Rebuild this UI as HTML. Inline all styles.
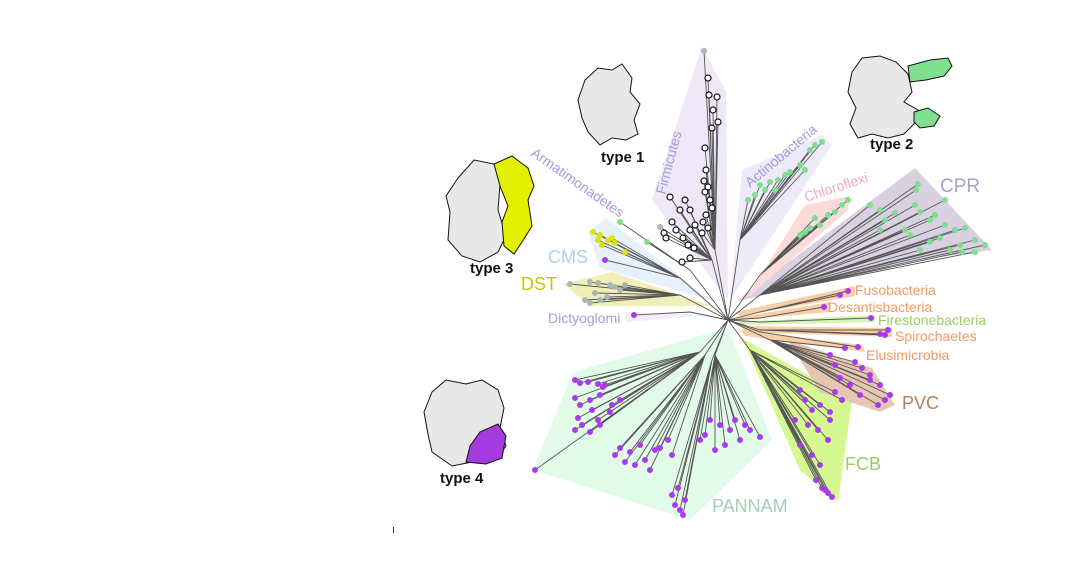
<!DOCTYPE html>
<html><head><meta charset="utf-8"><style>
html,body{margin:0;padding:0;background:#fff;}
svg{display:block;font-family:"Liberation Sans",sans-serif;}
</style></head><body>
<svg width="1087" height="575" viewBox="0 0 1087 575" xmlns="http://www.w3.org/2000/svg">
<g>
<polygon points="533,470 573,372 728,328 772,440 690,520" fill="#e2fbe8"/>
<polygon points="742,338 852,400 838,502 800,470" fill="#d6f890"/>
<polygon points="788,340 872,368 895,405 880,412 820,392" fill="#e6c6b2"/>
<polygon points="740,330 862,345 865,352 745,336" fill="#f7cfa6"/>
<polygon points="740,326 892,328 892,337 745,332" fill="#f7cfa6"/>
<polygon points="735,322 875,315 875,322 740,325" fill="#d6f5b2"/>
<polygon points="735,318 830,302 830,312 740,320" fill="#f7cfa6"/>
<polygon points="735,312 855,286 855,296 740,316" fill="#f7cfa6"/>
<polygon points="735,302 915,168 992,250 905,262" fill="#d9d0e2"/>
<polygon points="745,300 805,205 850,196 848,210" fill="#fbdada"/>
<polygon points="730,300 742,170 822,135 832,145" fill="#efeafa"/>
<polygon points="652,200 702,46 726,92 728,300" fill="#efe8f8"/>
<polygon points="588,232 606,218 710,300 600,268" fill="#e6f1fb"/>
<polygon points="563,284 612,272 712,306 590,306" fill="#f1efb8"/>
<polygon points="626,312 715,315 626,322" fill="#f4eefa"/>
</g>
<path stroke="#555" stroke-width="0.9" fill="none" d="
M728 320L700 352L575 380 M728 320L700 352L580 383 M728 320L700 352L588 382 M728 320L700 352L598 384 M728 320L700 352L605 385 M728 320L700 352L575 398 M728 320L700 352L580 405 M728 320L700 352L590 400 M728 320L700 352L600 395 M728 320L700 352L592 410 M728 320L700 352L578 418 M728 320L700 352L582 425 M728 320L700 352L598 420 M728 320L700 352L610 412 M728 320L700 352L575 430 M728 320L700 352L590 432 M728 320L700 352L600 425 M728 320L700 352L612 405 M728 320L700 352L620 400 M728 320L700 352L603 387 M728 320L700 352L535 470
M728 320L705 355L620 448 M728 320L705 355L630 452 M728 320L705 355L640 445 M728 320L705 355L625 462 M728 320L705 355L645 460 M728 320L705 355L655 450 M728 320L705 355L668 440 M728 320L705 355L650 470 M728 320L705 355L635 465 M728 320L705 355L615 455 M728 320L705 355L660 448 M728 320L705 355L672 455
M728 320L712 360L672 495 M728 320L712 360L675 505 M728 320L712 360L680 510 M728 320L712 360L685 500 M728 320L712 360L683 515 M728 320L712 360L678 488
M728 320L715 355L710 420 M728 320L715 355L720 425 M728 320L715 355L730 430 M728 320L715 355L740 440 M728 320L715 355L705 435 M728 320L715 355L725 445 M728 320L715 355L750 430 M728 320L715 355L760 437 M728 320L715 355L735 420 M728 320L715 355L745 425 M728 320L715 355L700 440 M728 320L715 355L715 450
M728 320L750 350L800 390 M728 320L750 350L805 400 M728 320L750 350L812 410 M728 320L750 350L820 405 M728 320L750 350L830 412 M728 320L750 350L795 420 M728 320L750 350L808 425 M728 320L750 350L818 430 M728 320L750 350L828 440 M728 320L750 350L800 445 M728 320L750 350L812 455 M728 320L750 350L820 465 M728 320L750 350L830 420 M728 320L750 350L842 400 M728 320L750 350L835 392 M728 320L750 350L816 480 M728 320L750 350L822 488 M728 320L750 350L828 493 M728 320L750 350L832 497 M728 320L750 350L825 490
M728 320L770 340L830 355 M728 320L770 340L845 348 M728 320L770 340L855 362 M728 320L770 340L862 368 M728 320L770 340L870 375 M728 320L770 340L880 385 M728 320L770 340L885 400 M728 320L770 340L890 395 M728 320L770 340L840 378 M728 320L770 340L850 385 M728 320L770 340L860 395 M728 320L770 340L870 380 M728 320L770 340L835 365 M728 320L770 340L878 405
M728 320L760 332L858 347 M728 320L760 330L880 334 M728 320L760 330L888 330 M728 320L760 330L885 335 M728 320L760 322L871 318 M728 320L760 318L824 307 M728 320L760 312L848 291 M728 320L760 312L840 295
M728 320L760 295L915 205 M728 320L760 295L920 212 M728 320L760 295L930 220 M728 320L760 295L935 215 M728 320L760 295L945 225 M728 320L760 295L955 230 M728 320L760 295L965 228 M728 320L760 295L975 240 M728 320L760 295L985 245 M728 320L760 295L960 245 M728 320L760 295L950 250 M728 320L760 295L920 250 M728 320L760 295L930 242 M728 320L760 295L940 238 M728 320L760 295L910 235 M728 320L760 295L905 230 M728 320L760 295L885 220 M728 320L760 295L880 210 M728 320L760 295L870 205 M728 320L760 295L895 213 M728 320L760 295L880 230 M728 320L760 295L918 184 M728 320L760 295L916 190 M728 320L760 295L945 200 M728 320L760 295L975 252 M728 320L760 295L962 252
M728 320L760 275L805 232 M728 320L760 275L810 228 M728 320L760 275L820 225 M728 320L760 275L828 215 M728 320L760 275L835 212 M728 320L760 275L842 205 M728 320L760 275L848 200 M728 320L760 275L815 218 M728 320L760 275L800 235
M728 320L740 240L748 200 M728 320L740 240L755 195 M728 320L740 240L760 185 M728 320L740 240L765 190 M728 320L740 240L770 182 M728 320L740 240L778 180 M728 320L740 240L785 175 M728 320L740 240L790 172 M728 320L740 240L800 165 M728 320L740 240L805 170 M728 320L740 240L810 150 M728 320L740 240L815 145 M728 320L740 240L822 142 M728 320L740 240L775 190
M728 320L715 250L708 78 M728 320L715 250L709 95 M728 320L715 250L717 97 M728 320L715 250L713 110 M728 320L715 250L718 122 M728 320L715 250L712 128 M728 320L715 250L705 148 M728 320L715 250L706 170 M728 320L715 250L708 187 M728 320L715 250L705 192 M728 320L715 250L710 200 M728 320L715 250L712 208 M728 320L715 250L706 215 M728 320L715 250L708 228 M728 320L715 250L702 233 M728 320L715 250L703 222 M728 320L715 250L704 181 M728 320L715 250L704 51
M728 320L712 260L670 197 M728 320L712 260L685 200 M728 320L712 260L680 210 M728 320L712 260L690 210 M728 320L712 260L695 225 M728 320L712 260L690 230 M728 320L712 260L683 238 M728 320L712 260L672 222 M728 320L712 260L676 230 M728 320L712 260L664 233 M728 320L712 260L666 238 M728 320L712 260L688 245 M728 320L712 260L690 258 M728 320L712 260L682 262 M728 320L712 260L694 248 M728 320L712 260L660 227
M728 320L690 270L620 222 M728 320L690 270L647 242
M728 320L680 278L593 232 M728 320L680 278L598 240 M728 320L680 278L600 235 M728 320L680 278L608 240 M728 320L680 278L612 238 M728 320L680 278L602 245 M728 320L680 278L615 243 M728 320L680 278L625 252 M728 320L680 278L605 260
M728 320L680 295L570 284 M728 320L680 295L590 282 M728 320L680 295L598 283 M728 320L680 295L610 285 M728 320L680 295L615 287 M728 320L680 295L620 290 M728 320L680 295L595 293 M728 320L680 295L600 300 M728 320L680 295L607 297 M728 320L680 295L590 303 M728 320L680 295L585 300 M728 320L680 295L625 285
M728 320L690 312L634 315"/>
<path stroke="#a83bf0" stroke-width="6" stroke-linecap="round" fill="none" d="
M575 380h0M580 383h0M588 382h0M598 384h0M605 385h0M575 398h0M580 405h0M590 400h0M600 395h0M592 410h0M578 418h0M582 425h0M598 420h0M610 412h0M575 430h0M590 432h0M600 425h0M612 405h0M620 400h0M603 387h0M535 470h0
M620 448h0M630 452h0M640 445h0M625 462h0M645 460h0M655 450h0M668 440h0M650 470h0M635 465h0M615 455h0M660 448h0M672 455h0
M672 495h0M675 505h0M680 510h0M685 500h0M683 515h0M678 488h0
M710 420h0M720 425h0M730 430h0M740 440h0M705 435h0M725 445h0M750 430h0M760 437h0M735 420h0M745 425h0M700 440h0M715 450h0
M800 390h0M805 400h0M812 410h0M820 405h0M830 412h0M795 420h0M808 425h0M818 430h0M828 440h0M800 445h0M812 455h0M820 465h0M830 420h0M842 400h0M835 392h0M816 480h0M822 488h0M828 493h0M832 497h0M825 490h0
M830 355h0M845 348h0M855 362h0M862 368h0M870 375h0M880 385h0M885 400h0M890 395h0M840 378h0M850 385h0M860 395h0M870 380h0M835 365h0M878 405h0
M858 347h0M880 334h0M888 330h0M885 335h0M871 318h0M824 307h0M848 291h0M840 295h0M605 260h0M634 315h0"/>
<path stroke="#7ee08e" stroke-width="6" stroke-linecap="round" fill="none" d="
M915 205h0M920 212h0M930 220h0M935 215h0M945 225h0M955 230h0M965 228h0M975 240h0M985 245h0M960 245h0M950 250h0M920 250h0M930 242h0M940 238h0M910 235h0M905 230h0M885 220h0M880 210h0M870 205h0M895 213h0M880 230h0M918 184h0M916 190h0M945 200h0M975 252h0M962 252h0
M805 232h0M810 228h0M820 225h0M828 215h0M835 212h0M842 205h0M848 200h0M815 218h0M800 235h0
M748 200h0M755 195h0M760 185h0M765 190h0M770 182h0M778 180h0M785 175h0M790 172h0M800 165h0M805 170h0M810 150h0M815 145h0M822 142h0M775 190h0
M620 222h0M647 242h0"/>
<path stroke="#dbe600" stroke-width="6" stroke-linecap="round" fill="none" d="M593 232h0M598 240h0M600 235h0M608 240h0M612 238h0M602 245h0M615 243h0M625 252h0"/>
<path stroke="#a9b8b4" stroke-width="6" stroke-linecap="round" fill="none" d="M570 284h0M590 282h0M598 283h0M610 285h0M615 287h0M620 290h0M595 293h0M600 300h0M607 297h0M590 303h0M585 300h0M625 285h0M704 51h0M660 227h0"/>
<g fill="#fff" stroke="#111" stroke-width="1.2">
<circle cx="708" cy="78" r="3"/><circle cx="709" cy="95" r="3"/><circle cx="717" cy="97" r="3"/><circle cx="713" cy="110" r="3"/><circle cx="718" cy="122" r="3"/><circle cx="712" cy="128" r="3"/><circle cx="705" cy="148" r="3"/><circle cx="706" cy="170" r="3"/><circle cx="708" cy="187" r="3"/><circle cx="705" cy="192" r="3"/><circle cx="710" cy="200" r="3"/><circle cx="712" cy="208" r="3"/><circle cx="706" cy="215" r="3"/><circle cx="708" cy="228" r="3"/><circle cx="702" cy="233" r="3"/><circle cx="703" cy="222" r="3"/><circle cx="704" cy="181" r="3"/>
<circle cx="670" cy="197" r="3"/><circle cx="685" cy="200" r="3"/><circle cx="680" cy="210" r="3"/><circle cx="690" cy="210" r="3"/><circle cx="695" cy="225" r="3"/><circle cx="690" cy="230" r="3"/><circle cx="683" cy="238" r="3"/><circle cx="672" cy="222" r="3"/><circle cx="676" cy="230" r="3"/><circle cx="664" cy="233" r="3"/><circle cx="666" cy="238" r="3"/><circle cx="688" cy="245" r="3"/><circle cx="690" cy="258" r="3"/><circle cx="682" cy="262" r="3"/><circle cx="694" cy="248" r="3"/>
</g>
<g stroke="#111" stroke-width="1">
<path d="M585,80 L598,68 L612,70 L622,64 L632,78 L630,92 L640,104 L634,120 L638,134 L626,140 L612,138 L600,145 L588,132 L582,118 L578,100 Z" fill="#e8e8e8"/>
<path d="M852,72 L862,58 L880,56 L896,62 L908,74 L912,92 L904,102 L918,110 L914,124 L904,134 L888,138 L872,134 L858,138 L850,124 L856,108 L848,92 Z" fill="#e8e8e8"/>
<path d="M908,66 L930,60 L948,58 L952,66 L944,76 L926,80 L910,82 Z" fill="#80e08f"/>
<path d="M914,112 L928,108 L940,116 L934,126 L920,128 L914,122 Z" fill="#80e08f"/>
<path d="M458,178 L474,160 L494,164 L500,184 L498,210 L506,236 L498,252 L480,262 L462,256 L448,240 L450,212 L446,196 Z" fill="#e8e8e8"/>
<path d="M494,164 L512,156 L528,168 L534,186 L528,200 L532,226 L522,242 L514,254 L504,246 L502,222 L508,206 L500,186 Z" fill="#e3f000"/>
<path d="M432,392 L446,380 L466,384 L482,380 L498,390 L504,408 L500,428 L506,446 L496,460 L472,462 L452,466 L432,452 L428,434 L424,412 Z" fill="#e8e8e8"/>
<path d="M480,432 L498,424 L506,436 L502,458 L486,464 L466,462 L470,446 Z" fill="#a43be0"/>
</g>
<g font-weight="bold" fill="#111" font-size="15">
<text x="601" y="162">type 1</text>
<text x="870" y="149">type 2</text>
<text x="470" y="273">type 3</text>
<text x="440" y="483">type 4</text>
</g>
<g font-size="14">
<text transform="translate(530,155) rotate(35)" fill="#a49be0">Armatimonadetes</text>
<text transform="translate(665,195) rotate(-75)" fill="#a49be0">Firmicutes</text>
<text transform="translate(750,188) rotate(-40)" fill="#a49be0">Actinobacteria</text>
<text transform="translate(806,202) rotate(-18)" fill="#f4a9b4">Chloroflexi</text>
<text x="940" y="192" font-size="19" fill="#a9a0c8">CPR</text>
<text x="548" y="263" font-size="18" fill="#a9d4f5">CMS</text>
<text x="521" y="290" font-size="18" fill="#c9c400">DST</text>
<text x="548" y="323" fill="#a49be0">Dictyoglomi</text>
<text x="855" y="295" fill="#ee9a62">Fusobacteria</text>
<text x="828" y="312" fill="#ee9a62">Desantisbacteria</text>
<text x="878" y="325" fill="#9ccc63">Firestonebacteria</text>
<text x="895" y="341" fill="#ee9a62">Spirochaetes</text>
<text x="866" y="360" fill="#ee9a62">Elusimicrobia</text>
<text x="902" y="409" font-size="18" fill="#b08060">PVC</text>
<text x="845" y="470" font-size="18" fill="#9ccc63">FCB</text>
<text x="712" y="512" font-size="18" fill="#a9cdb8">PANNAM</text>
</g>
<rect x="393" y="527" width="1" height="6" fill="#333"/>
</svg>
</body></html>
